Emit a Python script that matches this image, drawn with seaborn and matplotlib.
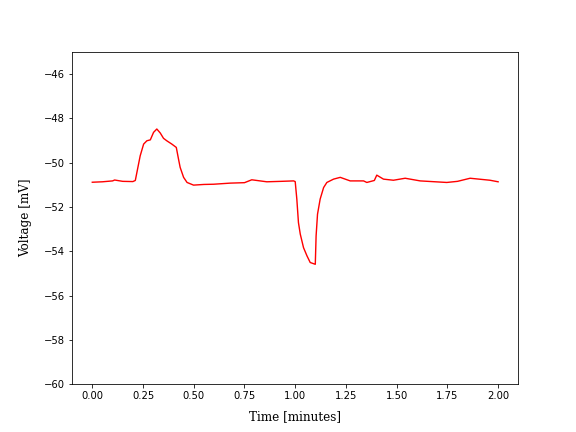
import matplotlib
matplotlib.use("Agg")
import matplotlib.pyplot as plt
import seaborn as sns
import pandas as pd

time_min = [0.0, 0.05, 0.10, 0.11, 0.15, 0.20, 0.212, 0.236, 0.253, 0.269, 0.286,
            0.302, 0.318, 0.335, 0.351, 0.367, 0.392, 0.414, 0.425, 0.433, 0.45,
            0.467, 0.499, 0.55, 0.598, 0.68, 0.75, 0.786, 0.86, 0.93, 0.992, 1.0,
            1.008, 1.016, 1.025, 1.041, 1.058, 1.074, 1.099, 1.103, 1.11, 1.123,
            1.14, 1.156, 1.189, 1.222, 1.271, 1.337, 1.353, 1.39, 1.402, 1.435,
            1.484, 1.542, 1.616, 1.747, 1.80, 1.862, 1.96, 2.0]
voltage_mv = [-50.88, -50.86, -50.82, -50.78, -50.84, -50.85, -50.80, -49.69, -49.16,
              -49.01, -48.97, -48.63, -48.48, -48.66, -48.90, -49.01, -49.16, -49.31,
              -49.84, -50.21, -50.66, -50.89, -51.01, -50.98, -50.97, -50.92, -50.90,
              -50.77, -50.86, -50.84, -50.82, -50.85, -51.64, -52.70, -53.22, -53.83,
              -54.20, -54.50, -54.58, -53.30, -52.32, -51.64, -51.12, -50.89, -50.74,
              -50.66, -50.82, -50.82, -50.89, -50.80, -50.56, -50.74, -50.79, -50.70,
              -50.82, -50.89, -50.84, -50.70, -50.79, -50.86]

df = pd.DataFrame({"t": time_min, "v": voltage_mv})

fig, ax = plt.subplots(figsize=(8, 6), dpi=72)
sns.lineplot(data=df, x="t", y="v", color="red", linewidth=1.4, ax=ax,
             estimator=None, sort=False)
ax.set_xlim(-0.1, 2.1)
ax.set_ylim(-60, -45)
ax.set_yticks([-60, -58, -56, -54, -52, -50, -48, -46])
ax.set_xticks([0.0, 0.25, 0.5, 0.75, 1.0, 1.25, 1.5, 1.75, 2.0])
ax.set_xlabel("Time [minutes]", family="DejaVu Serif", fontsize=12, labelpad=9)
ax.set_ylabel("Voltage [mV]", family="DejaVu Serif", fontsize=12, labelpad=12)
fig.savefig("out.png", dpi=72)
